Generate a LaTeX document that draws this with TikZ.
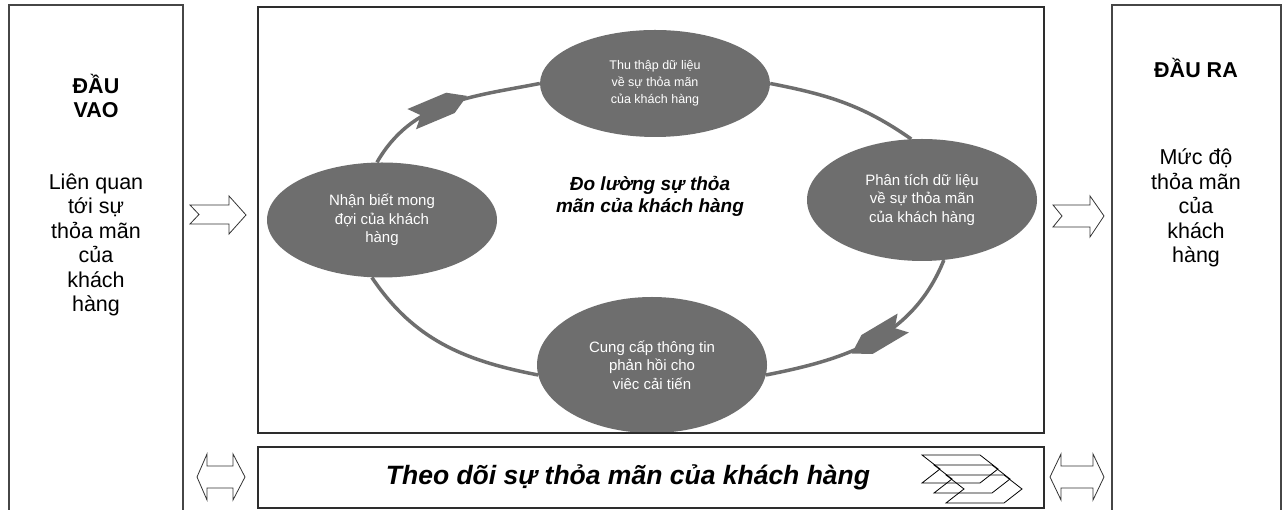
\documentclass[tikz,border=0pt]{standalone}
\usepackage{fontspec}
\setmainfont{Liberation Sans}
\usetikzlibrary{shapes.geometric,decorations.markings}
\definecolor{bubgray}{RGB}{110,110,110}
\definecolor{framegray}{RGB}{45,45,45}
\definecolor{outergray}{RGB}{70,70,70}
\begin{document}
\begin{tikzpicture}[x=1pt,y=1pt,
  bubble/.style={ellipse, fill=bubgray, text=white, inner sep=0pt, minimum width=230, minimum height=115, align=center, font=\fontsize{15}{18.5}\selectfont},
  ring/.style={draw=bubgray, line width=3.5},
  tailhead/.style={postaction={decorate}, decoration={markings, mark=at position #1 with {\fill[bubgray] (-30,11) -- (12,11) -- (30,0) -- (12,-11) -- (-30,-11) -- (-20,0) -- cycle;}}},
  frame/.style={draw=framegray, line width=2.2},
  outer/.style={draw=outergray, line width=1.1},
  hollow/.style={draw=black!80, line width=0.8, fill=white},
  boxtext/.style={align=center, font=\fontsize{21.5}{24.5}\selectfont},
  boxhead/.style={align=center, font=\bfseries\fontsize{21.5}{24.5}\selectfont},
  titletext/.style={align=center, font=\bfseries\itshape\fontsize{19}{22}\selectfont},
  bandtext/.style={font=\bfseries\itshape\fontsize{26.5}{30}\selectfont}
]
\useasboundingbox (0,0) rectangle (1287,510);
\fill[white] (0,0) rectangle (1287,510);

% outer boxes
\draw[outer] (9,-5) -- (9,505) -- (183,505) -- (183,-5);
\draw[outer] (1112,-5) -- (1112,505) -- (1281,505) -- (1281,-5);

% texts of side boxes
\node[boxhead] (inhead) at (96,414) {ĐẦU\\VAO};
\node[boxtext] (intext) at (96,265) {Liên quan\\tới sự\\thỏa mãn\\của\\khách\\hàng};
\node[boxhead] (outhead) at (1196,442) {ĐẦU RA};
\node[boxtext] (outtext) at (1196,302) {Mức độ\\thỏa mãn\\của\\khách\\hàng};

% bubbles
\node[bubble, minimum height=107, font=\fontsize{12.5}{17}\selectfont] (T) at (655,426.5) {Thu thập dữ liệu\\về sự thỏa mãn\\của khách hàng};
\node[bubble, minimum height=122] (R) at (922,310) {Phân tích dữ liệu\\về sự thỏa mãn\\của khách hàng};
\node[bubble] (L) at (382,290) {Nhận biết mong\\đợi của khách\\hàng};
\node[bubble, minimum height=136] (B) at (652,145) {Cung cấp thông tin\\phản hồi cho\\viêc cải tiến};

% ring connectors
\draw[ring, tailhead=0.45] (L.95) to[out=60,in=191] (T.west);
\draw[ring] (T.east) to[out=-11,in=145] (R.100);
\draw[ring, tailhead=0.47] (R.-70) to[out=248,in=11] (B.-5);
\draw[ring] (B.185) to[out=169,in=-56] (L.-100);

% title
\node[titletext] (title) at (650,314) {Đo lường sự thỏa\\mãn của khách hàng};

% main frame and band
\draw[frame] (258,77) rectangle (1044,503);
\draw[frame] (258,2) rectangle (1044,63);
\node[bandtext] (band) at (628,33) {Theo dõi sự thỏa mãn của khách hàng};

% chevron icon
\foreach \k in {0,1,2}
  \draw[line width=0.8] ({922+12*\k},{55-10*\k}) -- ++(58,0) -- ++(18,-14) -- ++(-18,-14) -- ++(-58,0) -- ++(18,14) -- cycle;

% notched arrows
\draw[hollow] (190,305) -- (229,305) -- (229,314) -- (246,295) -- (229,276) -- (229,286) -- (190,286) -- (199,295.5) -- cycle;
\draw[hollow] (1053,305) -- (1090,305) -- (1090,314) -- (1104,294) -- (1090,273) -- (1090,283) -- (1053,283) -- (1062,294) -- cycle;

% double arrows
\draw[hollow] (197,33) -- (207,56) -- (207,44) -- (233,44) -- (233,56) -- (245,33) -- (233,10) -- (233,22) -- (207,22) -- (207,10) -- cycle;
\draw[hollow] (1050,33) -- (1061,56) -- (1061,44) -- (1093,44) -- (1093,56) -- (1104,33) -- (1093,10) -- (1093,22) -- (1061,22) -- (1061,10) -- cycle;
\end{tikzpicture}
\end{document}
